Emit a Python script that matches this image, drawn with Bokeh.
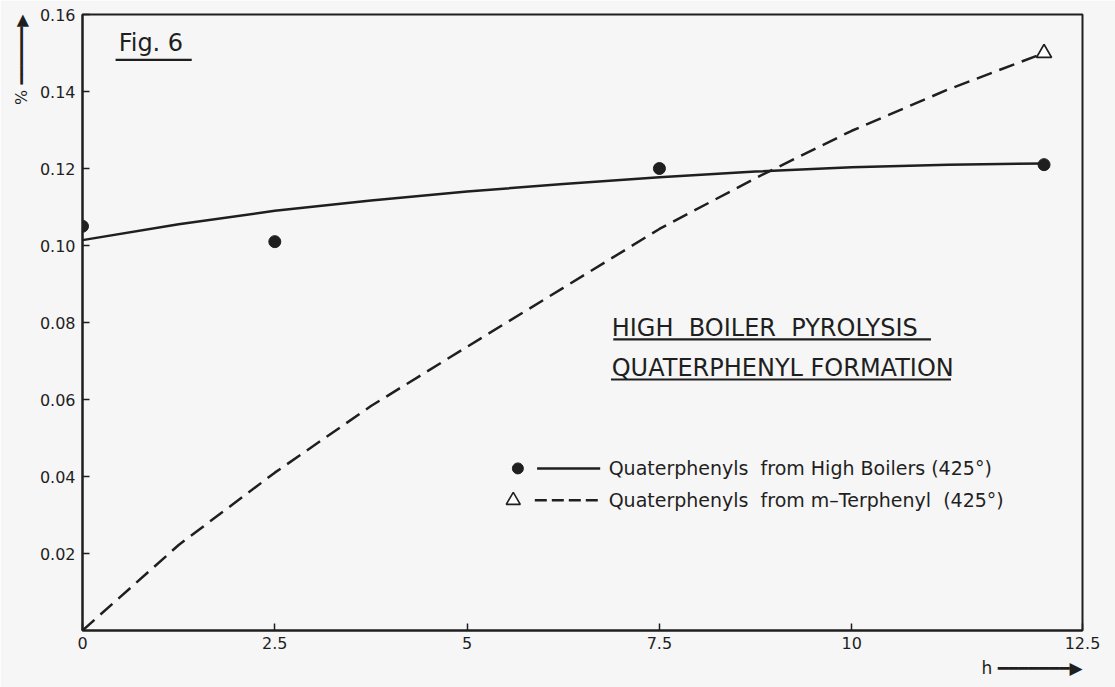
from bokeh.plotting import figure
from bokeh.models import Range1d, FixedTicker, Label, Title
from bokeh.embed import file_html
from bokeh.resources import INLINE

# ---------------- data ----------------
# Quaterphenyls from High Boilers (425°) - measured points
hb_hours = [0, 2.5, 7.5, 12.5]
hb_values = [0.105, 0.101, 0.120, 0.121]
# smooth fitted curve through high boiler data
hb_fit_hours = [0, 1.25, 2.5, 3.75, 5, 6.25, 7.5, 8.75, 10, 11.25, 12.5]
hb_fit_values = [0.1014, 0.1055, 0.1090, 0.1117, 0.1140, 0.1160, 0.1177,
                 0.1192, 0.1203, 0.1210, 0.1213]

# Quaterphenyls from m-Terphenyl (425°) - measured point
mt_hours = [12.5]
mt_values = [0.150]
# dashed fitted curve
mt_fit_hours = [0, 1.25, 2.5, 3.75, 5, 6.25, 7.5, 8.75, 10, 11.25, 12.5]
mt_fit_values = [0.0, 0.0222, 0.0410, 0.0583, 0.0737, 0.0890, 0.1043,
                 0.1175, 0.1298, 0.1405, 0.1500]

y_ticks = [0.02, 0.04, 0.06, 0.08, 0.10, 0.12, 0.14, 0.16]
y_tick_labels = ["0.02", "0.04", "0.06", "0.08", "0.10", "0.12", "0.14", "0.16"]
x_ticks = [0, 2.5, 5, 7.5, 10, 13.0]
x_tick_labels = ["0", "2.5", "5", "7.5", "10", "12.5"]

NB = "\u00a0"
legend_labels = ["Quaterphenyls" + NB * 2 + "from High Boilers (425°)",
                 "Quaterphenyls" + NB * 2 + "from m\u2013Terphenyl" + NB * 2 + "(425°)"]
title_lines = ["HIGH" + NB * 2 + "BOILER" + NB * 2 + "PYROLYSIS",
               "QUATERPHENYL" + NB + "FORMATION"]
fig_label = "Fig." + NB + "6"
y_caption = "%" + NB + "\u2501" * 6 + "\u25b6"
x_caption = "h" + NB + "\u2501" * 7 + "\u25b6"

# ---------------- styling ----------------
INK = "#1f1f1f"
BG = "#f6f6f6"
FONT = "DejaVu Sans"

p = figure(width=1115, height=687, output_backend="svg", toolbar_location=None,
           x_range=Range1d(0, 13.0), y_range=Range1d(0, 0.16),
           background_fill_color=BG, border_fill_color=BG)
p.min_border_left = 82
p.min_border_right = 33
p.min_border_top = 14
p.min_border_bottom = 57
p.outline_line_color = INK
p.outline_line_width = 2
p.grid.visible = False

p.xaxis.ticker = FixedTicker(ticks=x_ticks)
p.xaxis.major_label_overrides = dict(zip(x_ticks, x_tick_labels))
p.yaxis.ticker = FixedTicker(ticks=y_ticks)
p.yaxis.major_label_overrides = dict(zip(y_ticks, y_tick_labels))
for ax in (p.xaxis[0], p.yaxis[0]):
    ax.axis_line_color = INK
    ax.axis_line_width = 2
    ax.major_tick_line_color = INK
    ax.major_tick_line_width = 1.5
    ax.major_tick_in = 7
    ax.major_tick_out = 0
    ax.minor_tick_line_color = None
    ax.major_label_text_font = FONT
    ax.major_label_text_font_size = "16px"
    ax.major_label_text_color = INK
p.xaxis.major_label_standoff = 6
p.yaxis.major_label_standoff = 7

# axis captions with arrows (outside the frame)
p.add_layout(Title(text=y_caption, align="right", text_font=FONT,
                   text_font_size="16px", text_font_style="normal",
                   text_color=INK, standoff=12), "left")
p.add_layout(Title(text=x_caption, align="right", text_font=FONT,
                   text_font_size="17px", text_font_style="normal",
                   text_color=INK, standoff=8), "below")

# ---------------- curves & points ----------------
p.line(hb_fit_hours, hb_fit_values, line_color=INK, line_width=2.5)
p.line(mt_fit_hours, mt_fit_values, line_color=INK, line_width=2.5,
       line_dash="16 8")
p.scatter(hb_hours, hb_values, marker="circle", size=12,
          fill_color=INK, line_color=INK)
p.scatter(mt_hours, mt_values, marker="triangle", size=15,
          fill_color="white", line_color=INK, line_width=1.8)

# ---------------- legend (hand-laid like the original) ----------------
leg_y = [0.0421, 0.0338]
p.scatter([5.66], [leg_y[0]], marker="circle", size=11, fill_color=INK, line_color=INK)
p.scatter([5.60], [leg_y[1]], marker="triangle", size=14, fill_color="white",
          line_color=INK, line_width=1.6)
p.line([5.91, 6.73], [leg_y[0], leg_y[0]], line_color=INK, line_width=2.5)
p.line([5.88, 6.73], [leg_y[1], leg_y[1]], line_color=INK, line_width=2.5,
       line_dash="12 5")
for yy, txt in zip(leg_y, legend_labels):
    p.add_layout(Label(x=6.84, y=yy, text=txt, text_font=FONT,
                       text_font_size="19px", text_color=INK,
                       text_baseline="middle", text_align="left"))

# ---------------- title block ----------------
title_y = [0.0787, 0.0683]
for yy, txt in zip(title_y, title_lines):
    p.add_layout(Label(x=6.88, y=yy, text=txt, text_font=FONT,
                       text_font_size="24px", text_color=INK,
                       text_baseline="middle", text_align="left"))
p.line([6.9, 11.03], [0.0756, 0.0756], line_color=INK, line_width=2.2)
p.line([6.87, 11.29], [0.0652, 0.0652], line_color=INK, line_width=2.2)

# Fig. 6
p.add_layout(Label(x=0.47, y=0.1525, text=fig_label, text_font=FONT,
                   text_font_size="24px", text_color=INK,
                   text_baseline="middle", text_align="left"))
p.line([0.43, 1.42], [0.1482, 0.1482], line_color=INK, line_width=2.2)

open("out.html", "w").write(file_html(p, INLINE))
